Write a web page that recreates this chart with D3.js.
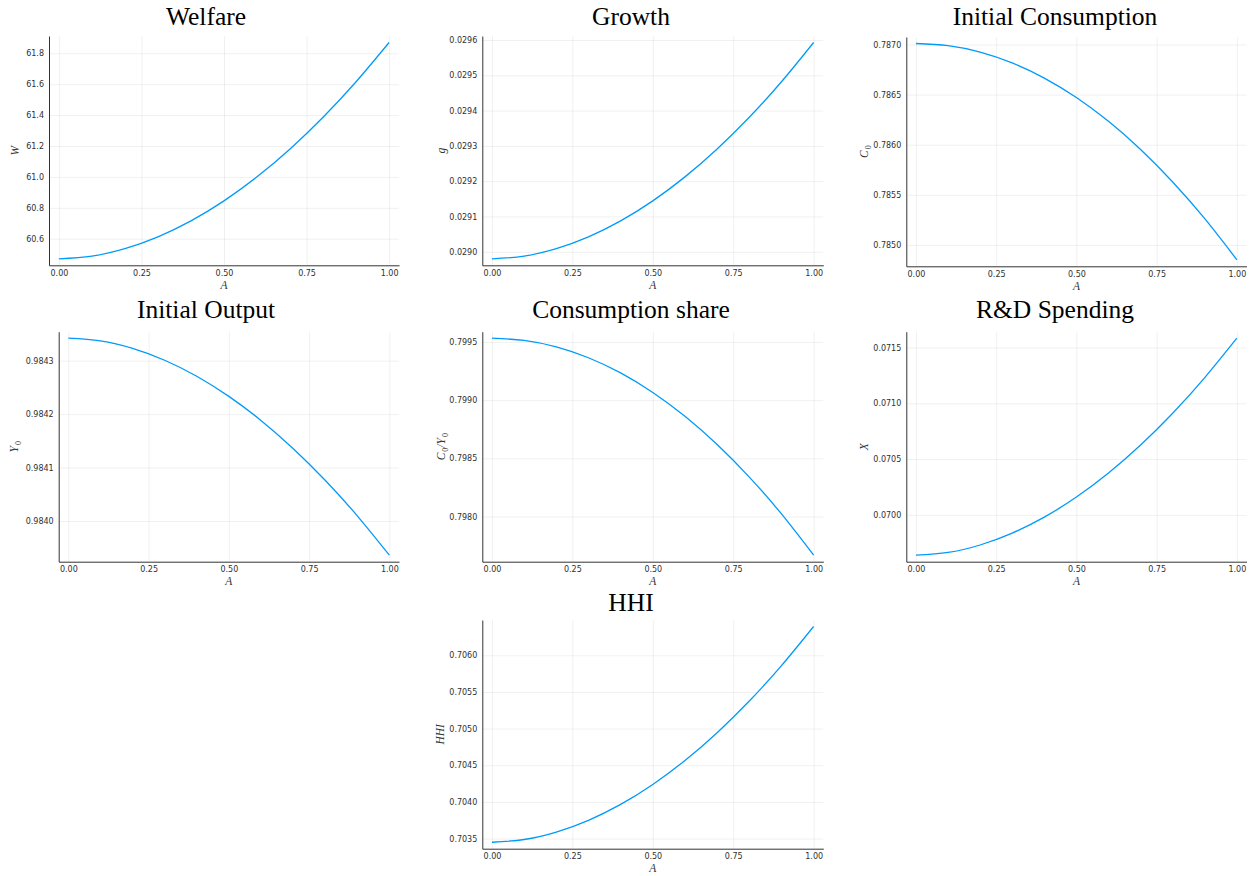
<!DOCTYPE html>
<html>
<head>
<meta charset="utf-8">
<script src="https://cdn.jsdelivr.net/npm/d3@7"></script>
<style>
  body { margin: 0; background: #fff; }
  .tick text { font-family: "DejaVu Sans", sans-serif; font-size: 8px; fill: #303030; }
  .title { font-family: "Liberation Serif", serif; font-size: 25.5px; fill: #000; }
  .axlab { font-family: "Liberation Serif", serif; font-size: 11.5px; font-style: italic; fill: #333; }
</style>
</head>
<body>
<div class="chart"></div>
<script>
// A grid shared by all panels
let aValues = [0, 0.1, 0.2, 0.3, 0.4, 0.5, 0.6, 0.7, 0.8, 0.9, 1.0];

// series
let welfare = [60.470, 60.4876, 60.5358, 60.6122, 60.7155, 60.8451, 61.0004, 61.1809, 61.3863, 61.6160, 61.870];
let growth = [0.028980, 0.0289877, 0.0290088, 0.0290422, 0.0290875, 0.0291442, 0.0292122, 0.0292913, 0.0293812, 0.0294818, 0.029593];
let consumption = [0.787010, 0.7869884, 0.7869236, 0.7868157, 0.7866646, 0.7864702, 0.7862328, 0.7859521, 0.7856282, 0.7852612, 0.784851];
let output = [0.984342, 0.9843369, 0.9843229, 0.9843008, 0.9842708, 0.9842332, 0.9841882, 0.9841358, 0.9840763, 0.9840097, 0.983936];
let consShare = [0.799532, 0.7995134, 0.7994574, 0.7993642, 0.7992338, 0.799066, 0.798861, 0.7986186, 0.798339, 0.7980222, 0.797668];
let rdSpending = [0.069638, 0.0696625, 0.0697294, 0.0698356, 0.0699792, 0.0701594, 0.0703753, 0.0706262, 0.0709116, 0.071231, 0.071584];
let hhi = [0.703450, 0.7034871, 0.7035883, 0.7037488, 0.7039661, 0.7042386, 0.704565, 0.7049444, 0.7053761, 0.7058591, 0.706393];

// tick values
let xTicks = [0, 0.25, 0.5, 0.75, 1];
let welfareTicks = [60.6, 60.8, 61.0, 61.2, 61.4, 61.6, 61.8];
let growthTicks = [0.0290, 0.0291, 0.0292, 0.0293, 0.0294, 0.0295, 0.0296];
let consTicks = [0.7850, 0.7855, 0.7860, 0.7865, 0.7870];
let outputTicks = [0.9840, 0.9841, 0.9842, 0.9843];
let shareTicks = [0.7980, 0.7985, 0.7990, 0.7995];
let rdTicks = [0.0700, 0.0705, 0.0710, 0.0715];
let hhiTicks = [0.7035, 0.7040, 0.7045, 0.7050, 0.7055, 0.7060];

let svgWidth = 1256;
let svgHeight = 876;

// plot boxes: [left, right, top, bottom]
let panels = [
  { title: "Welfare", values: welfare, ticks: welfareTicks, fmt: ".1f",
    ylab: [["W", 0]], box: [49, 399, 36, 265.3], titleX: 206, titleY: 25, ylabX: 15 },
  { title: "Growth", values: growth, ticks: growthTicks, fmt: ".4f",
    ylab: [["g", 0]], box: [482.3, 823.3, 36, 265.3], titleX: 631, titleY: 25, ylabX: 440.7 },
  { title: "Initial Consumption", values: consumption, ticks: consTicks, fmt: ".4f",
    ylab: [["C", 0], ["0", 1]], box: [906.3, 1246.5, 37, 266.3], titleX: 1055, titleY: 25, ylabX: 863.7 },
  { title: "Initial Output", values: output, ticks: outputTicks, fmt: ".4f",
    ylab: [["Y", 0], ["0", 1]], box: [58.7, 399, 331.7, 561.7], titleX: 206, titleY: 317.7, ylabX: 14 },
  { title: "Consumption share", values: consShare, ticks: shareTicks, fmt: ".4f",
    ylab: [["C", 0], ["0", 1], ["/Y", 0], ["0", 1]], box: [482.3, 823.3, 331.7, 561.7], titleX: 631, titleY: 317.7, ylabX: 440.7 },
  { title: "R&D Spending", values: rdSpending, ticks: rdTicks, fmt: ".4f",
    ylab: [["X", 0]], box: [906.3, 1246.5, 331.7, 561.7], titleX: 1055, titleY: 317.7, ylabX: 863.7 },
  { title: "HHI", values: hhi, ticks: hhiTicks, fmt: ".4f",
    ylab: [["HHI", 0]], box: [482.3, 823.3, 620, 848.7], titleX: 631, titleY: 610.7, ylabX: 440 }
];

var svg = d3.select(".chart")
  .append("svg")
  .attr("width", svgWidth)
  .attr("height", svgHeight);

panels.forEach(function(p) {
  let [left, right, top, bottom] = p.box;
  let lo = d3.min(p.values), hi = d3.max(p.values);
  let pad = (hi - lo) * 0.03;

  let x = d3.scaleLinear().domain([-0.03, 1.03]).range([left, right]);
  let y = d3.scaleLinear().domain([lo - pad, hi + pad]).range([bottom, top]);

  let g = svg.append("g");

  // grid lines
  g.append("g")
    .attr("transform", `translate(0, ${bottom})`)
    .call(d3.axisBottom(x).tickValues(xTicks).tickSize(-(bottom - top)).tickFormat(""))
    .call(s => s.select(".domain").remove())
    .selectAll("line").attr("stroke", "#000").attr("stroke-opacity", 0.08).attr("stroke-width", 0.8);
  g.append("g")
    .attr("transform", `translate(${left}, 0)`)
    .call(d3.axisLeft(y).tickValues(p.ticks).tickSize(-(right - left)).tickFormat(""))
    .call(s => s.select(".domain").remove())
    .selectAll("line").attr("stroke", "#000").attr("stroke-opacity", 0.08).attr("stroke-width", 0.8);

  // axes
  let xAxis = g.append("g")
    .attr("transform", `translate(0, ${bottom})`)
    .call(d3.axisBottom(x).tickValues(xTicks).tickFormat(d3.format(".2f")).tickSize(0).tickPadding(5));
  let yAxis = g.append("g")
    .attr("transform", `translate(${left}, 0)`)
    .call(d3.axisLeft(y).tickValues(p.ticks).tickFormat(d3.format(p.fmt)).tickSize(0).tickPadding(5));
  [xAxis, yAxis].forEach(a => {
    a.attr("font-size", null).attr("font-family", null);
    a.select(".domain").attr("stroke", "#333").attr("stroke-width", 1);
  });

  // curve
  let line = d3.line()
    .x((d, i) => x(aValues[i]))
    .y(d => y(d))
    .curve(d3.curveNatural);
  g.append("path")
    .datum(p.values)
    .attr("d", line)
    .attr("fill", "none")
    .attr("stroke", "#009AFA")
    .attr("stroke-width", 1.3);

  // title
  g.append("text")
    .attr("class", "title")
    .attr("x", p.titleX)
    .attr("y", p.titleY)
    .attr("text-anchor", "middle")
    .text(p.title);

  // x label
  g.append("text")
    .attr("class", "axlab")
    .attr("x", (left + right) / 2)
    .attr("y", bottom + 23.5)
    .attr("text-anchor", "middle")
    .text("A");

  // y label, rotated, with subscripts
  let yl = g.append("text")
    .attr("class", "axlab")
    .attr("text-anchor", "middle")
    .attr("transform", `translate(${p.ylabX + 4}, ${(top + bottom) / 2}) rotate(-90)`);
  p.ylab.forEach(function(part) {
    yl.append("tspan")
      .attr("font-size", part[1] ? "8px" : null)
      .attr("font-style", part[1] ? "normal" : null)
      .attr("baseline-shift", part[1] ? "-3" : null)
      .attr("dx", part[1] ? 1 : null)
      .text(part[0]);
  });
});
</script>
</body>
</html>
